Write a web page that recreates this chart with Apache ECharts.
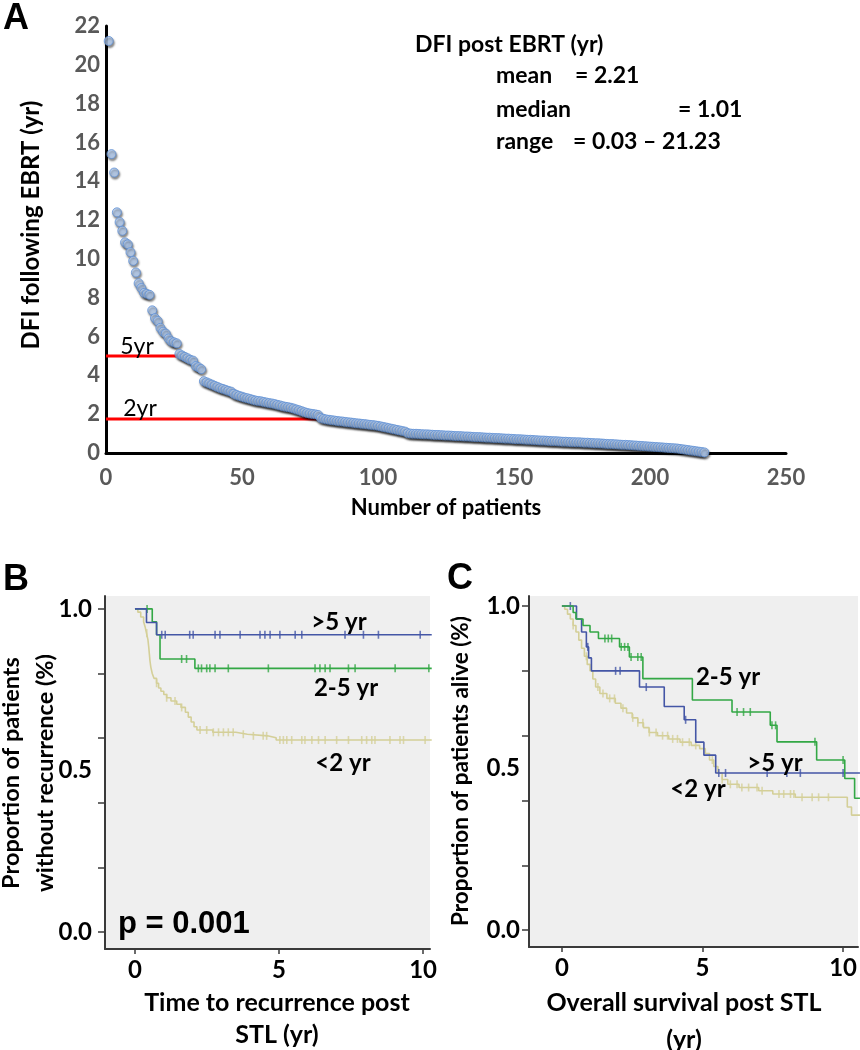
<!DOCTYPE html>
<html>
<head>
<meta charset="utf-8">
<script src="https://cdn.jsdelivr.net/npm/echarts@6/dist/echarts.min.js"></script>
<style>
html,body{margin:0;padding:0;background:#fff;}
#main{width:860px;height:1050px;}
</style>
</head>
<body>
<div id="main"></div>
<script>
// ---------- Panel A data: DFI following EBRT (yr), sorted by patient ----------
const dfiValues = [
  21.23, 15.40, 14.45, 12.40, 11.90, 11.45, 10.85, 10.75, 10.35, 9.90,
  9.30, 8.75, 8.50, 8.25, 8.20, 8.15, 7.35, 6.95, 6.80, 6.45,
  6.25, 6.15, 5.90, 5.75, 5.70, 5.65, 5.10, 5.02, 4.95, 4.88,
  4.80, 4.76, 4.48, 4.42, 4.32, 3.70, 3.64, 3.58, 3.52, 3.46,
  3.40, 3.34, 3.30, 3.25, 3.20, 3.16, 3.05, 2.99, 2.94, 2.90,
  2.85, 2.82, 2.78, 2.74, 2.70, 2.68, 2.66, 2.63, 2.60, 2.57,
  2.55, 2.52, 2.48, 2.45, 2.41, 2.38, 2.36, 2.33, 2.29, 2.24,
  2.20, 2.15, 2.10, 2.06, 2.03, 2.01, 1.99, 1.96, 1.80, 1.76,
  1.73, 1.71, 1.69, 1.67, 1.65, 1.63, 1.62, 1.60, 1.58, 1.57,
  1.55, 1.53, 1.52, 1.50, 1.49, 1.47, 1.45, 1.44, 1.42, 1.40,
  1.37, 1.34, 1.31, 1.28, 1.25, 1.22, 1.19, 1.16, 1.13, 1.10,
  1.02, 1.00, 0.99, 0.99, 0.98, 0.97, 0.96, 0.96, 0.95, 0.94,
  0.93, 0.93, 0.92, 0.91, 0.90, 0.90, 0.89, 0.88, 0.87, 0.87,
  0.86, 0.85, 0.85, 0.84, 0.83, 0.82, 0.82, 0.81, 0.80, 0.79,
  0.79, 0.78, 0.77, 0.77, 0.76, 0.75, 0.74, 0.74, 0.73, 0.72,
  0.71, 0.71, 0.70, 0.69, 0.68, 0.68, 0.67, 0.66, 0.65, 0.64,
  0.64, 0.63, 0.62, 0.61, 0.61, 0.60, 0.59, 0.58, 0.58, 0.57,
  0.56, 0.56, 0.55, 0.55, 0.54, 0.53, 0.53, 0.52, 0.51, 0.50,
  0.50, 0.49, 0.48, 0.47, 0.46, 0.46, 0.45, 0.44, 0.43, 0.42,
  0.42, 0.41, 0.40, 0.39, 0.38, 0.37, 0.36, 0.35, 0.34, 0.33,
  0.32, 0.31, 0.30, 0.29, 0.28, 0.27, 0.26, 0.25, 0.24, 0.23,
  0.21, 0.19, 0.17, 0.15, 0.13, 0.11, 0.09, 0.07, 0.05, 0.03
];
const aXTicks = [0, 50, 100, 150, 200, 250];
const aYTicks = [0, 2, 4, 6, 8, 10, 12, 14, 16, 18, 20, 22];
// cutoff lines [label, value, last patient reached]
const cutoffLabels = ['5yr', '2yr'];
const cutoffValues = [5.0, 1.75];
const cutoffEnds = [27, 78.5];
const statLines = ['DFI post EBRT (yr)', 'mean', '= 2.21', 'median', '= 1.01', 'range', '= 0.03 \u2013 21.23'];

// ---------- Panel B: time to recurrence post STL (KM) ----------
const groupNames = ['>5 yr', '2-5 yr', '<2 yr'];
const bGt5Steps = [[0,1.0],[0.4,0.958],[0.75,0.92],[10.3,0.92]];
const bGt5Cens = [0.93,1.05,1.9,2.02,2.78,2.95,3.65,4.34,4.51,4.69,5.03,5.56,5.79,7.29,7.93,8.45,9.9];
const b25Steps = [[0,1.0],[0.6,0.96],[0.75,0.92],[0.87,0.845],[2.08,0.816],[10.3,0.816]];
const b25Cens = [0.42,1.62,1.79,2.2,2.31,2.49,2.6,2.78,3.24,4.63,6.25,6.42,6.6,6.77,7.41,7.64,9.03,10.2];
const bLt2Steps = [[0,1.0],[0.1,0.99],[0.2,0.975],[0.3,0.96],[0.35,0.945],[0.4,0.925],[0.45,0.905],[0.48,0.88],
  [0.5,0.86],[0.52,0.84],[0.55,0.82],[0.6,0.80],[0.66,0.785],[0.75,0.77],[0.82,0.755],[0.9,0.745],[1.0,0.735],
  [1.1,0.725],[1.25,0.715],[1.45,0.705],[1.6,0.695],[1.75,0.68],[1.85,0.665],[1.95,0.65],[2.05,0.635],[2.15,0.625],
  [2.7,0.618],[3.5,0.612],[3.9,0.607],[4.6,0.601],[4.9,0.594],[10.3,0.594]];
const bLt2Cens = [0.41,0.75,1.1,1.39,1.62,2.26,2.49,2.72,2.9,3.07,3.24,3.41,3.76,4.11,4.45,4.57,5.03,5.15,5.27,5.44,
  5.79,5.9,6.14,6.37,6.6,7.0,7.41,7.87,8.04,8.22,8.33,8.85,9.2,9.32,10.07];

// ---------- Panel C: overall survival post STL (KM) ----------
const cGt5Steps = [[0,1.0],[0.52,0.96],[0.7,0.92],[0.87,0.874],[0.95,0.84],[1.05,0.80],[2.76,0.75],[3.64,0.69],
  [4.35,0.649],[4.76,0.58],[5.05,0.54],[5.47,0.485],[10.6,0.485]];
const cGt5Cens = [0.3,0.92,1.91,2.07,3.0,4.4,5.58,5.82,7.3,8.0,8.48,10.0];
const c25Steps = [[0,1.0],[0.4,0.98],[0.5,0.96],[0.75,0.94],[1.0,0.92],[1.3,0.90],[2.05,0.874],[2.4,0.843],
  [2.88,0.776],[4.64,0.71],[6.05,0.673],[7.41,0.632],[7.65,0.581],[9.06,0.525],[10.06,0.468],[10.41,0.407],[10.6,0.407]];
const c25Cens = [1.53,1.65,1.77,2.11,2.23,2.35,2.46,2.7,2.82,6.23,6.46,6.7,7.47,7.6,9.0,10.0];
const cLt2Steps = [[0,1.0],[0.1,0.99],[0.2,0.975],[0.3,0.96],[0.4,0.94],[0.5,0.92],[0.6,0.895],[0.7,0.87],
  [0.8,0.845],[0.9,0.82],[1.0,0.80],[1.1,0.775],[1.2,0.75],[1.35,0.73],[1.6,0.715],[1.9,0.70],[2.1,0.685],
  [2.3,0.67],[2.5,0.655],[2.7,0.64],[2.9,0.625],[3.1,0.61],[3.4,0.60],[3.8,0.59],[4.2,0.58],[4.6,0.57],
  [4.9,0.56],[5.1,0.545],[5.25,0.525],[5.4,0.505],[5.55,0.485],[5.7,0.465],[5.9,0.45],[6.3,0.44],[7.0,0.43],
  [7.5,0.42],[8.3,0.41],[10.15,0.38],[10.3,0.355],[10.6,0.355]];
const cLt2Cens = [0.40,0.87,1.28,1.46,1.70,1.87,2.17,2.52,2.70,2.88,3.11,3.35,3.58,3.76,3.94,4.11,4.29,4.53,4.76,
  5.35,5.7,5.99,6.23,6.4,6.64,6.94,7.12,7.72,7.89,8.13,8.25,8.54,8.9,9.13,9.48];

const kmYTicks = [0, 0.2, 0.4, 0.6, 0.8, 1.0];
const kmYLabels = [0, 0.5, 1.0];
const kmXTicks = [0, 5, 10];

// ---------- helpers ----------
const FONT = 'Lato, "Open Sans", "Noto Sans", sans-serif';
const colGt5 = '#4456a6', col25 = '#33a845', colLt2 = '#d4cf98';

function stepValue(steps, t) {
  let v = steps[0][1];
  for (const s of steps) { if (s[0] <= t) v = s[1]; }
  return v;
}
function kmLine(steps, color, gi, z) {
  return { type: 'line', xAxisIndex: gi, yAxisIndex: gi, data: steps, step: 'end', showSymbol: false,
    symbol: 'none', lineStyle: { color: color, width: 1.6 }, z: z, silent: true, clip: true };
}
function kmCens(steps, cens, color, gi, z) {
  return { type: 'scatter', xAxisIndex: gi, yAxisIndex: gi, data: cens.map(t => [t, stepValue(steps, t)]),
    symbol: 'rect', symbolSize: [1.6, 8], itemStyle: { color: color }, z: z, silent: true };
}
function txt(x, y, text, opts) {
  opts = opts || {};
  return { type: 'text', x: x, y: y, rotation: opts.rot || 0, z: 100,
    style: { text: text, fill: opts.color || '#000', font: (opts.weight || 'bold') + ' ' + (opts.size || 20) + 'px ' + (opts.family || FONT),
      textAlign: opts.align || 'center', textVerticalAlign: opts.valign || 'middle' } };
}

const chart = echarts.init(document.getElementById('main'), null, { renderer: 'canvas' });

const kmXAxis = (gi, min, max) => ({
  gridIndex: gi, type: 'value', min: min, max: max,
  axisLine: { onZero: false, lineStyle: { color: '#3a3a3a', width: 2 } },
  axisTick: { show: true, customValues: kmXTicks, length: 5, lineStyle: { color: '#3a3a3a', width: 1.5 } },
  axisLabel: { customValues: kmXTicks, color: '#000', fontSize: 24, fontWeight: 'bold', fontFamily: FONT, margin: 9 },
  splitLine: { show: false }
});
const kmYAxis = (gi, min, max, margin) => ({
  gridIndex: gi, type: 'value', min: min, max: max,
  axisLine: { onZero: false, lineStyle: { color: '#3a3a3a', width: 2 } },
  axisTick: { show: true, customValues: kmYTicks, length: 7, lineStyle: { color: '#3a3a3a', width: 1.5 } },
  axisLabel: { customValues: kmYLabels, color: '#000', fontSize: 24, fontWeight: 'bold', fontFamily: FONT, margin: margin,
    formatter: v => v.toFixed(1) },
  splitLine: { show: false }
});

const series = [];
// Panel A scatter
series.push({
  type: 'scatter', xAxisIndex: 0, yAxisIndex: 0,
  data: dfiValues.map((v, i) => [i + 1, v]),
  symbol: 'circle', symbolSize: 9,
  itemStyle: { color: '#b6d0f2', borderColor: '#5f90d4', borderWidth: 1,
    shadowColor: 'rgba(0,0,0,0.55)', shadowBlur: 2, shadowOffsetX: 1, shadowOffsetY: 2 },
  z: 5
});
cutoffValues.forEach((v, i) => {
  series.push({ type: 'line', xAxisIndex: 0, yAxisIndex: 0, data: [[0, v], [cutoffEnds[i], v]],
    symbol: 'none', lineStyle: { color: '#ff0000', width: 3 }, z: 4, silent: true });
});
// Panel B
series.push(kmLine(bLt2Steps, colLt2, 1, 3), kmCens(bLt2Steps, bLt2Cens, colLt2, 1, 3));
series.push(kmLine(b25Steps, col25, 1, 4), kmCens(b25Steps, b25Cens, col25, 1, 4));
series.push(kmLine(bGt5Steps, colGt5, 1, 5), kmCens(bGt5Steps, bGt5Cens, colGt5, 1, 5));
// Panel C
series.push(kmLine(cLt2Steps, colLt2, 2, 3), kmCens(cLt2Steps, cLt2Cens, colLt2, 2, 3));
series.push(kmLine(cGt5Steps, colGt5, 2, 4), kmCens(cGt5Steps, cGt5Cens, colGt5, 2, 4));
series.push(kmLine(c25Steps, col25, 2, 5), kmCens(c25Steps, c25Cens, col25, 2, 5));

const graphics = [
  txt(16, 19, 'A', { size: 36, family: '"Liberation Sans", Arial, sans-serif' }),
  txt(16, 580, 'B', { size: 36, family: '"Liberation Sans", Arial, sans-serif' }),
  txt(460, 579, 'C', { size: 36, family: '"Liberation Sans", Arial, sans-serif' }),
  // Panel A titles
  txt(31, 225, 'DFI following EBRT (yr)', { rot: Math.PI / 2, size: 24 }),
  txt(446, 508, 'Number of patients', { size: 22 }),
  // stats
  txt(415, 45, statLines[0], { align: 'left', size: 23 }),
  txt(496, 76, statLines[1], { align: 'left', size: 23 }),
  txt(575, 76, statLines[2], { align: 'left', size: 23 }),
  txt(496, 110, statLines[3], { align: 'left', size: 23 }),
  txt(678, 110, statLines[4], { align: 'left', size: 23 }),
  txt(496, 142, statLines[5], { align: 'left', size: 23 }),
  txt(573, 142, statLines[6], { align: 'left', size: 23 }),
  // cutoff labels
  txt(137, 347, cutoffLabels[0], { size: 23, weight: 'normal' }),
  txt(140, 409, cutoffLabels[1], { size: 23, weight: 'normal' }),
  // Panel B titles
  txt(11, 773, 'Proportion of patients', { rot: Math.PI / 2, size: 23.5 }),
  txt(45, 773, 'without recurrence (%)', { rot: Math.PI / 2, size: 23.5 }),
  txt(277, 1003, 'Time to recurrence post', { size: 25 }),
  txt(277, 1035, 'STL (yr)', { size: 25 }),
  txt(118, 924, 'p = 0.001', { align: 'left', size: 31, family: '"Liberation Sans", Arial, sans-serif' }),
  txt(339, 622, groupNames[0], { size: 24 }),
  txt(346, 688, groupNames[1], { size: 24 }),
  txt(343, 763, groupNames[2], { size: 24 }),
  // Panel C titles
  txt(461, 771, 'Proportion of patients alive (%)', { rot: Math.PI / 2, size: 22.5 }),
  txt(684, 1003, 'Overall survival post STL', { size: 25 }),
  txt(684, 1040, '(yr)', { size: 25 }),
  txt(728, 677, groupNames[1], { size: 24 }),
  txt(775, 763, groupNames[0], { size: 24 }),
  txt(698, 789, groupNames[2], { size: 24 })
];

chart.setOption({
  animation: false,
  backgroundColor: '#ffffff',
  grid: [
    { left: 106, top: 26, width: 680, height: 427, containLabel: false },
    { left: 105, top: 596, width: 325, height: 353, show: true, backgroundColor: '#efefef', borderWidth: 0 },
    { left: 529, top: 596, width: 331, height: 351, show: true, backgroundColor: '#efefef', borderWidth: 0 }
  ],
  xAxis: [
    { gridIndex: 0, type: 'value', min: aXTicks[0], max: aXTicks[aXTicks.length - 1], interval: 50,
      axisLine: { onZero: false, lineStyle: { color: '#000', width: 3 } }, axisTick: { show: false },
      axisLabel: { color: '#595959', fontSize: 22, fontWeight: 'bold', fontFamily: FONT, margin: 14 },
      splitLine: { show: false } },
    kmXAxis(1, -1.04, 10.24),
    kmXAxis(2, -1.17, 10.53)
  ],
  yAxis: [
    { gridIndex: 0, type: 'value', min: aYTicks[0], max: aYTicks[aYTicks.length - 1], interval: 2,
      axisLine: { onZero: false, lineStyle: { color: '#000', width: 3 } }, axisTick: { show: false },
      axisLabel: { color: '#595959', fontSize: 22, fontWeight: 'bold', fontFamily: FONT, margin: 6, padding: [14, 0, 0, 0] },
      splitLine: { show: false } },
    kmYAxis(1, -0.053, 1.04, 13),
    kmYAxis(2, -0.052, 1.031, 9)
  ],
  series: series,
  graphic: graphics
});
</script>
</body>
</html>
